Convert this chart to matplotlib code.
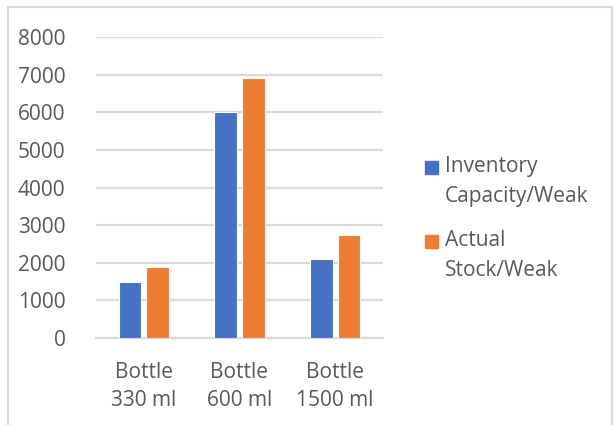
import matplotlib.pyplot as plt
import numpy as np
from matplotlib.patches import Rectangle

plt.rcParams['font.family'] = ['Open Sans', 'DejaVu Sans']

categories = ['Bottle\n330 ml', 'Bottle\n600 ml', 'Bottle\n1500 ml']
capacity = [1500, 6000, 2100]
actual = [1900, 6900, 2750]
series_names = ['Inventory\nCapacity/Weak', 'Actual\nStock/Weak']
colors = ['#4472C4', '#ED7D31']
yticks = list(range(0, 8001, 1000))

grey_text = '#595959'
grid_col = '#D9D9D9'
fs = 15

fig = plt.figure(figsize=(6.13, 4.25), dpi=100)
ax = fig.add_axes([0.1566, 0.2047, 0.4682, 0.7082])

x = np.arange(len(categories))
w = 0.235
ax.bar(x - 0.145, capacity, w, color=colors[0], edgecolor='white', linewidth=0.8, zorder=3)
ax.bar(x + 0.145, actual, w, color=colors[1], edgecolor='white', linewidth=0.8, zorder=3)

ax.set_xlim(-0.5, len(categories) - 0.5)
ax.set_ylim(0, 8000)
ax.set_yticks(yticks)
ax.set_yticklabels([str(v) for v in yticks])
ax.set_xticks(x)
ax.set_xticklabels(categories, linespacing=1.45)
ax.tick_params(axis='y', length=0, pad=22, labelsize=fs, labelcolor=grey_text)
ax.tick_params(axis='x', length=0, pad=17, labelsize=fs, labelcolor=grey_text)
ax.grid(axis='y', color=grid_col, linewidth=1.6, zorder=0)
for s in ['top', 'right', 'left']:
    ax.spines[s].set_visible(False)
ax.spines['bottom'].set_color(grid_col)
ax.spines['bottom'].set_linewidth(1.6)

# legend drawn by hand so the square sits on the first line
W, H = 613.0, 425.0
leg_y = [167, 241]
for i, name in enumerate(series_names):
    y = leg_y[i]
    fig.patches.append(Rectangle((425 / W, 1 - (y + 7) / H), 13 / W, 13 / H,
                                 transform=fig.transFigure, color=colors[i]))
    fig.text(445 / W, 1 - (y - 11) / H, name, fontsize=fs, color=grey_text,
             va='top', ha='left', linespacing=1.55)

# chart frame
fig.patches.append(Rectangle((8 / W, -0.05), 604 / W, 1.05 - 7 / H,
                             transform=fig.transFigure, fill=False,
                             edgecolor=grid_col, linewidth=1.5))

fig.savefig('out.png', dpi=100)
